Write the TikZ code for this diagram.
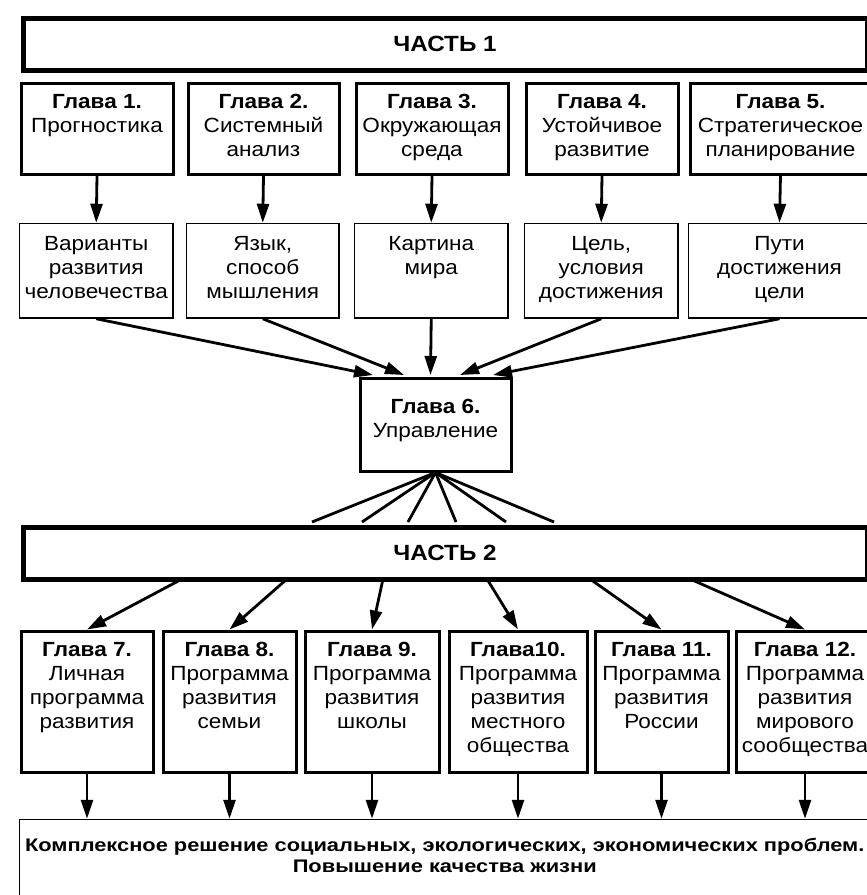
\documentclass[tikz,border=0pt]{standalone}
\usepackage{fontspec}
\setmainfont{Liberation Sans}[FakeStretch=1.1]
\newfontfamily\finfont{Liberation Sans}[FakeStretch=1.2]
\usetikzlibrary{arrows.meta,calc}
\tikzset{
  part/.style={draw, line width=5pt, inner sep=0pt, anchor=north west,
    font=\fontsize{22}{26}\selectfont\bfseries},
  chap/.style={draw, line width=3pt, inner sep=0pt, anchor=north west},
  sub/.style={draw, line width=1.5pt, inner sep=0pt, anchor=north west},
  arr/.style={line width=2.8pt, -{Triangle[length=19pt,width=12pt]}},
  ln/.style={line width=2.8pt},
}
\newcommand{\bxt}[4]{\parbox[c][#2pt][t]{#1pt}{\centering\fontsize{20.5}{24}\selectfont\vspace*{#3pt}#4\par}}
\begin{document}
\begin{tikzpicture}[x=1pt,y=-1pt]
\useasboundingbox (0,0) rectangle (867,895);
% parts
\node[part, minimum width=844pt, minimum height=52pt] (p1) at (20.5,15.5) {ЧАСТЬ 1};
\node[part, minimum width=844pt, minimum height=52pt] (p2) at (20.5,524.5) {ЧАСТЬ 2};
% row 1
\node[chap] (a1) at (19.5,81.5)  {\bxt{152}{91}{11.5}{\textbf{Глава 1.}\\Прогностика}};
\node[chap] (a2) at (186.5,81.5) {\bxt{151}{91}{11.5}{\textbf{Глава 2.}\\Системный\\анализ}};
\node[chap] (a3) at (354.5,81.5) {\bxt{152}{91}{11.5}{\textbf{Глава 3.}\\Окружающая\\среда}};
\node[chap] (a4) at (524.5,81.5) {\bxt{152}{91}{11.5}{\textbf{Глава 4.}\\Устойчивое\\развитие}};
\node[chap] (a5) at (688.5,81.5) {\bxt{181}{91}{11.5}{\textbf{Глава 5.}\\Стратегическое\\планирование}};
% row 2
\node[sub] (b1) at (18.75,222.75)  {\bxt{153.5}{94.5}{12.5}{Варианты\\развития\\человечества}};
\node[sub] (b2) at (185.75,222.75) {\bxt{152.5}{94.5}{12.5}{Язык,\\способ\\мышления}};
\node[sub] (b3) at (353.75,222.75) {\bxt{153.5}{94.5}{12.5}{Картина\\мира}};
\node[sub] (b4) at (523.75,222.75) {\bxt{153.5}{94.5}{12.5}{Цель,\\условия\\достижения}};
\node[sub] (b5) at (687.75,222.75) {\bxt{182}{94.5}{12.5}{Пути\\достижения\\цели}};
% chapter 6
\node[chap] (g6) at (358.5,376.5) {\bxt{151}{93}{21}{\textbf{Глава 6.}\\Управление}};
% row 3
\node[chap] (c1) at (19.5,629.5)  {\bxt{132}{141}{11}{\textbf{Глава 7.}\\Личная\\программа\\развития}};
\node[chap] (c2) at (161.5,629.5) {\bxt{133}{141}{11}{\textbf{Глава 8.}\\Программа\\развития\\семьи}};
\node[chap] (c3) at (303.5,629.5) {\bxt{134}{141}{11}{\textbf{Глава 9.}\\Программа\\развития\\школы}};
\node[chap] (c4) at (447.5,629.5) {\bxt{138}{141}{11}{\textbf{Глава10.}\\Программа\\развития\\местного\\общества}};
\node[chap] (c5) at (593.5,629.5) {\bxt{133}{141}{11}{\textbf{Глава 11.}\\Программа\\развития\\России}};
\node[chap] (c6) at (734.5,629.5) {\bxt{138}{141}{11}{\textbf{Глава 12.}\\Программа\\развития\\мирового\\сообщества}};
% final
\node[sub] (fin) at (18.75,818.75) {\parbox[c][100pt][t]{850.5pt}{\centering\finfont\fontsize{18.2}{21}\selectfont\bfseries\vspace*{19pt}Комплексное решение социальных, экологических, экономических проблем.\\Повышение качества жизни\par}};
% coordinates
\coordinate (t1) at (373,375);
\coordinate (t2) at (404,375);
\coordinate (t3) at (430.5,375);
\coordinate (t4) at (460,375);
\coordinate (t5) at (493,375);
\foreach \i/\x in {1/312,2/362,3/408,4/456,5/506,6/554}{\coordinate (u\i) at (\x,522);}
\foreach \i/\x in {1/182,2/287,3/383,4/487,5/590,6/690}{\coordinate (s\i) at (\x,579);}
% arrows row1 -> row2
\foreach \i in {1,...,5}{\draw[arr] (a\i.south) -- (b\i.north);}
% row2 -> g6
\foreach \i in {1,...,5}{\draw[arr] (b\i.south) -- (t\i);}
% g6 -> part 2
\foreach \i in {1,...,6}{\draw[ln] (g6.south) -- (u\i);}
% part 2 -> row 3
\foreach \i in {1,...,6}{\draw[arr] (s\i) -- (c\i.north);}
% row 3 -> final
\foreach \i in {1,...,6}{\draw[arr] (c\i.south) -- (c\i.south |- fin.north);}
\end{tikzpicture}
\end{document}
